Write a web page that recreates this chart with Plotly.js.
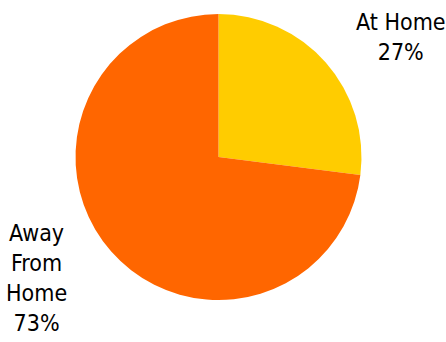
<!DOCTYPE html>
<html>
<head>
<meta charset="utf-8">
<script src="https://cdn.plot.ly/plotly-3.0.1.min.js"></script>
<style>html,body{margin:0;padding:0;background:#fff;}#chart{width:446px;height:342px;}</style>
</head>
<body>
<div id="chart"></div>
<script>
const labels = ["At Home", "Away From Home"];
const labelLines = ["At Home", "Away<br>From<br>Home"];
const values = [27, 73];
const colors = ["#FFCC00", "#FF6600"];

const FONT = "'DejaVu Sans Condensed', 'Liberation Sans Narrow', 'Arial Narrow', sans-serif";

const data = [{
  type: "pie",
  labels: labels,
  values: values,
  sort: false,
  direction: "clockwise",
  rotation: 0,
  marker: {colors: colors, line: {width: 0}},
  textinfo: "none",
  hoverinfo: "label+percent",
  showlegend: false,
  domain: {x: [0.1693, 0.8105], y: [0.1228, 0.959]}
}];

const total = values.reduce((a, b) => a + b, 0);
const annPos = [{x: 0.899, y: 0.892}, {x: 0.081, y: 0.187}];
const annotations = labels.map((l, i) => ({
  text: labelLines[i] + "<br>" + Math.round(values[i] / total * 100) + "%",
  xref: "paper", yref: "paper",
  x: annPos[i].x, y: annPos[i].y,
  xanchor: "center", yanchor: "middle",
  align: "center",
  showarrow: false,
  font: {family: FONT, size: 23, color: "#000"}
}));

const layout = {
  width: 446, height: 342,
  margin: {l: 0, r: 0, t: 0, b: 0},
  paper_bgcolor: "#fff",
  plot_bgcolor: "#fff",
  annotations: annotations
};

Plotly.newPlot("chart", data, layout, {displayModeBar: false, staticPlot: true});
</script>
</body>
</html>
